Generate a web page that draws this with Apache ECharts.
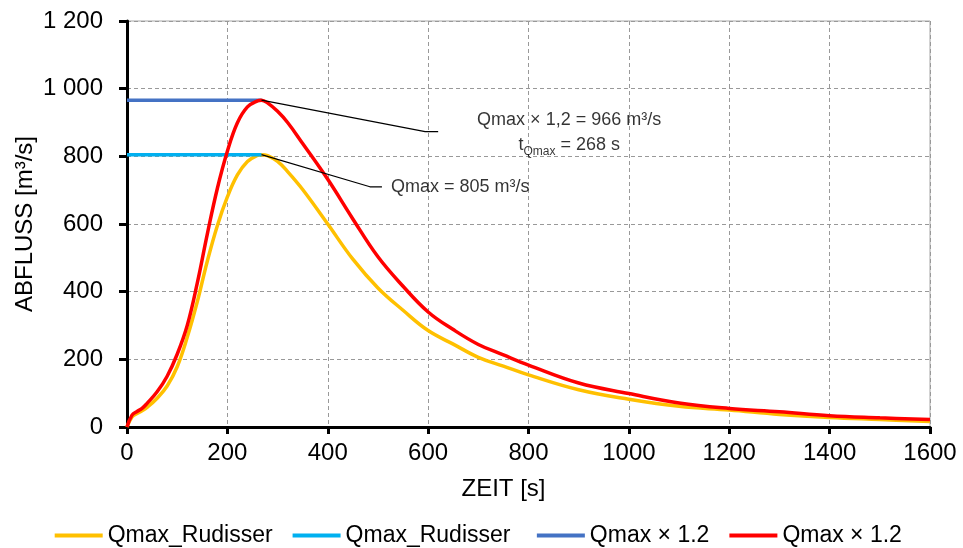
<!DOCTYPE html>
<html>
<head>
<meta charset="utf-8">
<script src="https://cdn.jsdelivr.net/npm/echarts@6/dist/echarts.min.js"></script>
<style>
  html, body { margin: 0; padding: 0; background: #fff; }
  #chart { width: 963px; height: 548px; }
</style>
</head>
<body>
<div id="chart"></div>
<script>
// Zeitachse [s]
var times = [0, 10, 20, 30, 40, 60, 80, 100, 120, 140, 160, 180, 200, 220, 240, 260, 268, 280, 300, 320,
  350, 400, 450, 500, 550, 600, 650, 700, 750, 800, 900, 1000, 1100, 1200, 1300, 1400, 1500, 1600];
// Qmax_Rudisser [m³/s]
var qRudisser = [0, 30, 40, 48, 58, 85, 121, 178, 265, 370, 490, 595, 680, 745, 785, 803, 805, 802, 785, 755,
  702, 600, 496, 411, 345, 285, 245, 206, 180, 154, 110, 82, 61, 50, 37, 28, 22, 16];
// Qmax x 1.2 [m³/s]
var qScaled = [0, 35, 46, 55, 70, 104, 150, 215, 300, 425, 570, 705, 815, 899, 946, 964, 966, 958, 933, 900,
  838, 732, 615, 503, 416, 340, 288, 244, 213, 183, 130, 99, 71, 55, 45, 33, 27, 22];

// waagrechte Linien bis zum Scheitel
var peakTime = 268;
var qmax = 805;
var qmaxScaled = 966;

// Hinweislinien zu den Beschriftungen
var leader1 = [[268, 966], [594, 873], [620, 873]];
var leader2 = [[268, 805], [484, 710], [508, 710]];
var label1Pos = [881, 869];
var label2Pos = [526, 709];

var font = 'Arial, "Liberation Sans", sans-serif';

function pairs(xs, ys) {
  var out = [];
  for (var i = 0; i < xs.length; i++) out.push([xs[i], ys[i]]);
  return out;
}

var chart = echarts.init(document.getElementById('chart'));

chart.setOption({
  animation: false,
  textStyle: { fontFamily: font },
  grid: {
    left: 127, right: 33, top: 21, bottom: 121,
    show: true, borderColor: '#a6a6a6', borderWidth: 1
  },
  legend: {
    top: 519,
    left: 'center',
    itemWidth: 48,
    itemHeight: 4,
    itemGap: 20,
    textStyle: { fontSize: 23, color: '#000', fontFamily: font },
    data: [
      { name: 'Qmax_Rudisser', icon: 'rect' },
      { name: 'Qmax_Rudisser ', icon: 'rect' },
      { name: 'Qmax × 1.2', icon: 'rect' },
      { name: 'Qmax × 1.2 ', icon: 'rect' }
    ]
  },
  xAxis: {
    type: 'value',
    min: 0, max: 1600, interval: 200,
    name: 'ZEIT [s]',
    nameLocation: 'middle',
    nameGap: 50,
    nameTextStyle: { fontSize: 24, color: '#000', padding: [0, 50, 0, 0] },
    axisLine: { lineStyle: { color: '#000', width: 3 } },
    axisTick: { show: true, length: 7, lineStyle: { color: '#000', width: 3 } },
    axisLabel: {
      fontSize: 24, color: '#000', margin: 14,
      formatter: function (v) { return String(v); }
    },
    splitLine: { lineStyle: { color: '#999', type: [4, 3], width: 1 } }
  },
  yAxis: {
    type: 'value',
    min: 0, max: 1200, interval: 200,
    name: 'ABFLUSS [m³/s]',
    nameLocation: 'middle',
    nameGap: 90,
    nameMoveOverlap: false,
    nameTextStyle: { fontSize: 24, color: '#000' },
    axisLine: { show: true, lineStyle: { color: '#000', width: 3 } },
    axisTick: { show: true, length: 8, lineStyle: { color: '#000', width: 3 } },
    axisLabel: {
      fontSize: 24, color: '#000', margin: 24,
      formatter: function (v) {
        return String(v).replace(/\B(?=(\d{3})+(?!\d))/g, ' ');
      }
    },
    splitLine: { lineStyle: { color: '#999', type: [4, 3], width: 1 } }
  },
  series: [
    {
      name: 'Qmax_Rudisser',
      type: 'line',
      data: pairs(times, qRudisser),
      smooth: 0.4,
      symbol: 'none',
      color: '#FFC000',
      lineStyle: { width: 3.5 },
      z: 3
    },
    {
      name: 'Qmax_Rudisser ',
      type: 'line',
      data: [[0, qmax], [peakTime, qmax]],
      symbol: 'none',
      color: '#00B0F0',
      lineStyle: { width: 3.5 },
      z: 4
    },
    {
      name: 'Qmax × 1.2',
      type: 'line',
      data: [[0, qmaxScaled], [peakTime, qmaxScaled]],
      symbol: 'none',
      color: '#4472C4',
      lineStyle: { width: 3.5 },
      z: 4
    },
    {
      name: 'Qmax × 1.2 ',
      type: 'line',
      data: pairs(times, qScaled),
      smooth: 0.4,
      symbol: 'none',
      color: '#FF0000',
      lineStyle: { width: 3.5 },
      z: 5
    },
    {
      name: 'leader1',
      type: 'line',
      data: leader1,
      symbol: 'none',
      silent: true,
      color: '#000',
      lineStyle: { width: 1.2 },
      z: 6
    },
    {
      name: 'leader2',
      type: 'line',
      data: leader2,
      symbol: 'none',
      silent: true,
      color: '#000',
      lineStyle: { width: 1.2 },
      z: 6
    },
    {
      name: 'labels',
      type: 'scatter',
      symbolSize: 0,
      silent: true,
      z: 7,
      data: [
        {
          value: label1Pos,
          label: {
            show: true,
            position: [0, 0],
            align: 'center',
            verticalAlign: 'middle',
            formatter: '{m|Qmax × 1,2 = 966 m³/s}\n{m|t}{sub|Qmax}{m| = 268 s}',
            rich: {
              m: { fontSize: 18, color: '#000', lineHeight: 25, fontFamily: font },
              sub: { fontSize: 12, color: '#000', lineHeight: 25, verticalAlign: 'bottom', fontFamily: font }
            }
          }
        },
        {
          value: label2Pos,
          label: {
            show: true,
            position: [0, 0],
            align: 'left',
            verticalAlign: 'middle',
            fontSize: 18,
            color: '#000',
            formatter: 'Qmax = 805 m³/s'
          }
        }
      ]
    }
  ]
});
</script>
</body>
</html>
